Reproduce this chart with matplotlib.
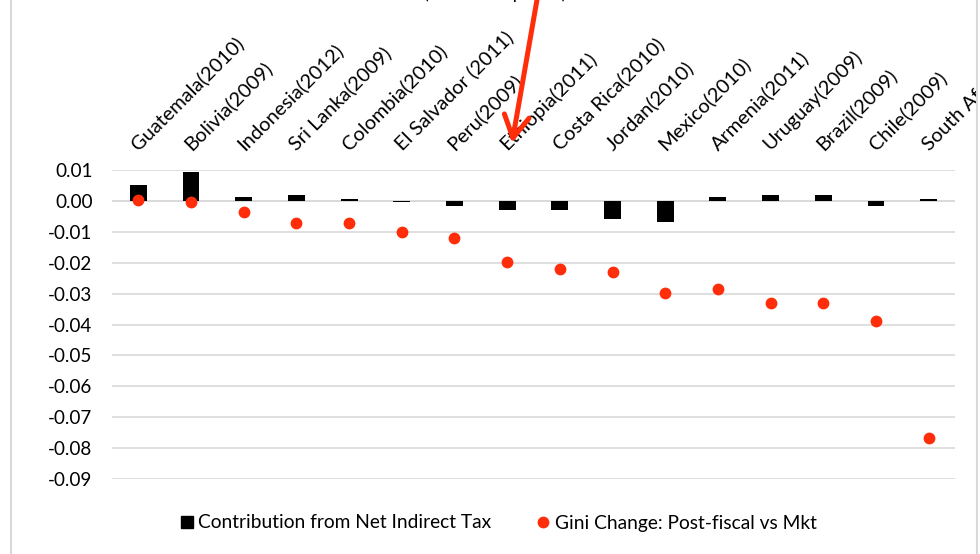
import matplotlib
matplotlib.use("Agg")
import matplotlib.pyplot as plt
from matplotlib.lines import Line2D
from matplotlib.patches import Rectangle
import numpy as np

plt.rcParams['font.family'] = ['Lato', 'DejaVu Sans']

countries = ["Guatemala(2010)", "Bolivia(2009)", "Indonesia(2012)", "Sri Lanka(2009)",
             "Colombia(2010)", "El Salvador (2011)", "Peru(2009)", "Ethiopia(2011)",
             "Costa Rica(2010)", "Jordan(2010)", "Mexico(2010)", "Armenia(2011)",
             "Uruguay(2009)", "Brazil(2009)", "Chile(2009)", "South Africa(2010)"]
net_indirect_tax = [0.0053, 0.0094, 0.0012, 0.0018, 0.0007, -0.0003, -0.0017, -0.0028,
                    -0.0028, -0.0057, -0.0069, 0.0012, 0.0018, 0.0018, -0.0017, 0.0005]
gini_change = [0.0003, -0.0005, -0.0035, -0.0070, -0.0070, -0.0102, -0.0121, -0.0197,
               -0.0219, -0.0230, -0.0297, -0.0284, -0.0330, -0.0330, -0.0388, -0.0767]
yticks = [0.01, 0.00, -0.01, -0.02, -0.03, -0.04, -0.05, -0.06, -0.07, -0.08, -0.09]

RED = '#ff2d0a'
W, H = 980, 554
fig = plt.figure(figsize=(W / 100, H / 100), dpi=100)
ax = fig.add_axes([112 / W, 1 - 479 / H, (955 - 112) / W, (479 - 170) / H])

x = np.arange(len(countries))
ax.bar(x, net_indirect_tax, width=0.32, color='black', zorder=3)
ax.plot(x, gini_change, 'o', color=RED, ms=8.5, mec='none', zorder=4)

ax.set_xlim(-0.5, len(countries) - 0.5)
ax.set_ylim(-0.09, 0.01)
ax.set_yticks(yticks)
ax.set_yticklabels([f"{v:.2f}" for v in yticks], fontsize=13.6)
ax.yaxis.grid(True, color='#d9d9d9', lw=1.2, zorder=0)
ax.axhline(0, color='#d9d9d9', lw=1.2, zorder=1)
for s in ax.spines.values():
    s.set_visible(False)
ax.tick_params(axis='y', length=0, pad=14)

ax.xaxis.tick_top()
ax.set_xticks(x)
ax.set_xticklabels(countries, rotation=45, ha='left', va='baseline',
                   rotation_mode='anchor', fontsize=14.4)
ax.tick_params(axis='x', length=0, pad=14)

# legend
handles = [Line2D([], [], marker='s', color='black', ls='none', ms=9),
           Line2D([], [], marker='o', color=RED, ls='none', ms=8.5, mec='none')]
fig.legend(handles, ["Contribution from Net Indirect Tax", "Gini Change: Post-fiscal vs Mkt"],
           loc='center', bbox_to_anchor=(497 / W, 1 - 523 / H), ncol=2, frameon=False,
           fontsize=13.8, handletextpad=0.1, columnspacing=2.2, handlelength=1.0)

# partially visible title at top edge
fig.text(495 / W, 1 + 1.5 / H, "(Gini index points)", ha='center', va='baseline',
         fontsize=13)

# red arrow
ax.annotate("", xy=(512, H - 143), xycoords='figure pixels',
            xytext=(538, H + 6), textcoords='figure pixels',
            arrowprops=dict(arrowstyle='->,head_length=1.6,head_width=0.9',
                            color=RED, lw=3.6, shrinkA=0, shrinkB=0),
            annotation_clip=False)

# chart frame clipping on the right
fig.patches.append(Rectangle((977 / W, 0), 1, 1, transform=fig.transFigure,
                             facecolor='white', edgecolor='none', zorder=10))
fig.lines.append(Line2D([11 / W, 11 / W], [0, 1], transform=fig.transFigure,
                        color='#d9d9d9', lw=1.5, zorder=11))
fig.lines.append(Line2D([977 / W, 977 / W], [0, 1], transform=fig.transFigure,
                        color='#d9d9d9', lw=1.5, zorder=11))

fig.savefig("out.png", dpi=100)
